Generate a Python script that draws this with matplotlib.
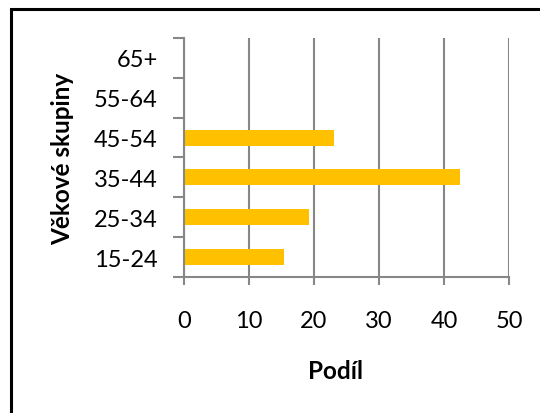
import matplotlib
matplotlib.use("Agg")
import matplotlib.pyplot as plt
from matplotlib.patches import Rectangle

# age groups, bottom to top, and their share
GROUPS = ["15-24", "25-34", "35-44", "45-54", "55-64", "65+"]
SHARE = [15.4, 19.2, 42.4, 23.1, 0, 0]
X_TICKS = [0, 10, 20, 30, 40, 50]

GRID = "#878787"
BAR = "#FFC000"

plt.rcParams["font.family"] = ["Lato", "DejaVu Sans"]

fig = plt.figure(figsize=(5.4, 4.14), dpi=100)
ax = fig.add_axes([0.3407, 0.3285, 0.6019, 0.5773])

y = range(len(GROUPS))
ax.barh(y, SHARE, height=0.4, color=BAR, zorder=3)

ax.set_xlim(0, 50)
ax.set_ylim(-0.5, len(GROUPS) - 0.5)
ax.set_xticks(X_TICKS)
ax.set_yticks(list(y))
ax.set_yticklabels(GROUPS)

# category separators as ticks between the labels
ax.set_yticks([i - 0.5 for i in range(len(GROUPS) + 1)], minor=True)
ax.tick_params(axis="y", which="major", length=0, pad=19, labelsize=17)
ax.tick_params(axis="y", which="minor", length=8, width=1.5, color=GRID)
ax.tick_params(axis="x", length=6, width=1.5, color=GRID, pad=18, labelsize=17)

ax.grid(axis="x", color=GRID, linewidth=1.5, zorder=0)
for side in ("top", "right"):
    ax.spines[side].set_visible(False)
for side in ("left", "bottom"):
    ax.spines[side].set_color(GRID)
    ax.spines[side].set_linewidth(1.5)
    ax.spines[side].set_zorder(4)

ax.set_xlabel("Podíl", fontsize=17.5, fontweight="bold", va="center")
ax.xaxis.set_label_coords(0.465, -0.393)
ax.set_ylabel("Věkové skupiny", fontsize=17.5, fontweight="bold", va="center")
ax.yaxis.set_label_coords(-0.372, 0.5)

# frame around the chart, running past the lower right edge
fig.patches.append(Rectangle((11 / 540, -0.1), 1.2, 1.1 - 10 / 414,
                             transform=fig.transFigure, fill=False,
                             edgecolor="black", linewidth=2.2))

fig.savefig("out.png", dpi=100)
